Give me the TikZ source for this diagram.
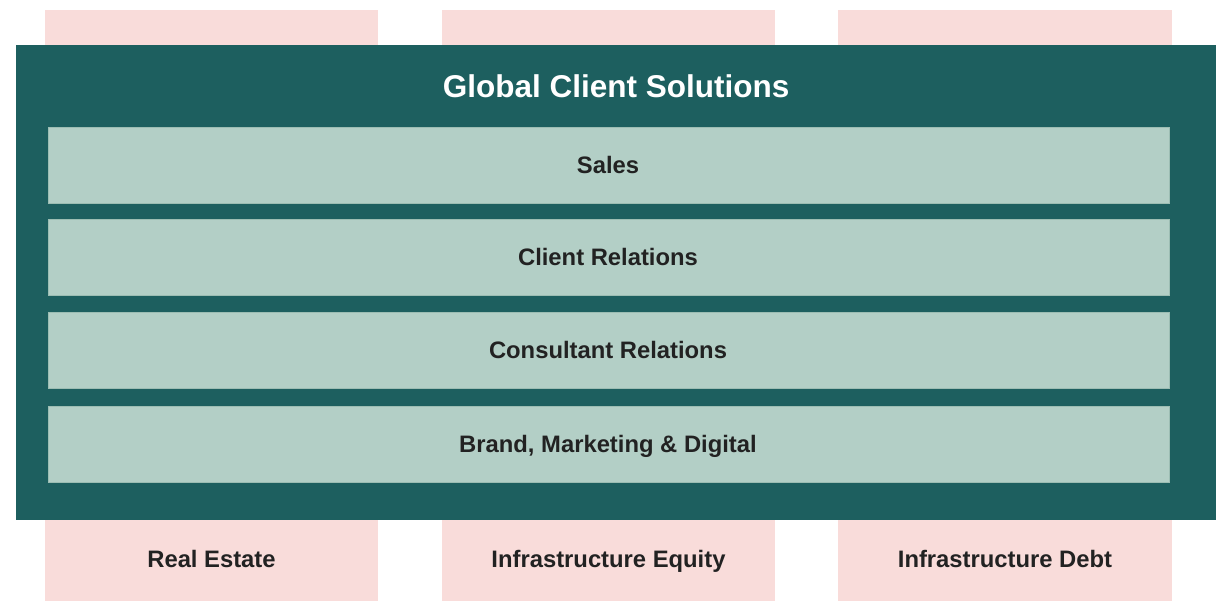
\documentclass[tikz,border=0pt]{standalone}
\usepackage{fontspec}
\setmainfont{Liberation Sans}
\definecolor{teal}{HTML}{1D5F5F}
\definecolor{pinkc}{HTML}{F9DCDA}
\definecolor{barc}{HTML}{B3CFC6}
\definecolor{barl}{HTML}{9CBDB3}
\definecolor{txt}{HTML}{222222}
\begin{document}
\begin{tikzpicture}[x=1pt,y=-1pt,
  col/.style={fill=pinkc,draw=none},
  bar/.style={fill=barc,draw=barl,line width=0.8pt},
  bartext/.style={font=\fontsize{23.8}{28}\selectfont\bfseries,text=txt,anchor=base,inner sep=0pt},
  title/.style={font=\fontsize{31.5}{36}\selectfont\bfseries,text=white,anchor=base,inner sep=0pt}]
\useasboundingbox (0,0) rectangle (1220,601);
\fill[white] (0,0) rectangle (1220,601);
\fill[col] (45,10) rectangle (378,601);
\fill[col] (442,10) rectangle (775,601);
\fill[col] (838,10) rectangle (1172,601);
\fill[teal] (16,45) rectangle (1216,520);
\node[title] (gcs) at (616,97.5) {Global Client Solutions};
\draw[bar] (48,127) rectangle (1169,203);
\node[bartext] (sales) at (608,173.5) {Sales};
\draw[bar] (48,219) rectangle (1169,295);
\node[bartext] (cr) at (608,265.5) {Client Relations};
\draw[bar] (48,312) rectangle (1169,388);
\node[bartext] (cons) at (608,358.5) {Consultant Relations};
\draw[bar] (48,406) rectangle (1169,482);
\node[bartext] (brand) at (608,452.5) {Brand, Marketing \& Digital};
\node[bartext] (re) at (211.5,567.5) {Real Estate};
\node[bartext] (ie) at (608.5,567.5) {Infrastructure Equity};
\node[bartext] (id) at (1005,567.5) {Infrastructure Debt};
\end{tikzpicture}
\end{document}
